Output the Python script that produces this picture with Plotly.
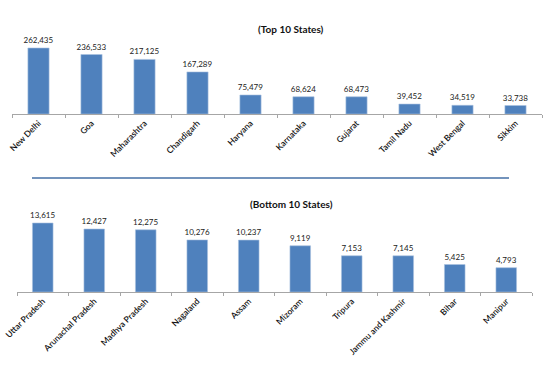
import plotly.graph_objects as go

top_states = ["New Delhi", "Goa", "Maharashtra", "Chandigarh", "Haryana",
              "Karnataka", "Gujarat", "Tamil Nadu", "West Bengal", "Sikkim"]
top_values = [262435, 236533, 217125, 167289, 75479, 68624, 68473, 39452, 34519, 33738]

bottom_states = ["Uttar Pradesh", "Arunachal Pradesh", "Madhya Pradesh", "Nagaland", "Assam",
                 "Mizoram", "Tripura", "Jammu and Kashmir", "Bihar", "Manipur"]
bottom_values = [13615, 12427, 12275, 10276, 10237, 9119, 7153, 7145, 5425, 4793]

top_title = "(Top 10 States)"
bottom_title = "(Bottom 10 States)"

W, H = 550, 366
FONT = "Lato"
BAR = "#4F81BD"

def py(p):
    return 1 - p / H

fig = go.Figure()
for vals, cats, xa, ya in [(top_values, top_states, "x", "y"),
                            (bottom_values, bottom_states, "x2", "y2")]:
    fig.add_trace(go.Bar(
        x=cats, y=vals, xaxis=xa, yaxis=ya,
        marker=dict(color=BAR, line=dict(color="#A9C1DF", width=0.6)),
        text=vals, texttemplate="%{y:,}", textposition="outside",
        textfont=dict(family=FONT, size=8, color="#222"),
        constraintext="none", cliponaxis=False, showlegend=False,
    ))

top_axis_px = 114
top_range = 300000
top_h = top_range * (114 - 48) / 262435
bot_axis_px = 292
bot_range = 16000
bot_h = bot_range * (292 - 223) / 13615

xcommon = dict(type="category", showline=True, linecolor="#A6A6A6", linewidth=1,
               ticks="outside", tickson="boundaries", ticklen=3, tickcolor="#A6A6A6",
               tickangle=-45, tickfont=dict(family=FONT, size=8.5, color="#111", weight=600),
               showgrid=False, zeroline=False, automargin=False)
ycommon = dict(visible=False, showgrid=False, zeroline=False, automargin=False)

fig.update_layout(
    width=W, height=H, margin=dict(l=0, r=0, t=0, b=0),
    paper_bgcolor="white", plot_bgcolor="white",
    bargap=0.6,
    xaxis=dict(**xcommon, domain=[12 / W, 542 / W], anchor="y"),
    yaxis=dict(**ycommon, domain=[py(top_axis_px), py(top_axis_px - top_h)], range=[0, top_range], anchor="x"),
    xaxis2=dict(**xcommon, domain=[17 / W, 532 / W], anchor="y2"),
    yaxis2=dict(**ycommon, domain=[py(bot_axis_px), py(bot_axis_px - bot_h)], range=[0, bot_range], anchor="x2"),
    annotations=[
        dict(text="<b>" + top_title + "</b>", x=291 / W, y=py(29), xref="paper", yref="paper",
             showarrow=False, font=dict(family=FONT, size=10, color="#111"), xanchor="center", yanchor="middle"),
        dict(text="<b>" + bottom_title + "</b>", x=291 / W, y=py(204), xref="paper", yref="paper",
             showarrow=False, font=dict(family=FONT, size=10, color="#111"), xanchor="center", yanchor="middle"),
    ],
    shapes=[dict(type="line", xref="paper", yref="paper", x0=32 / W, x1=509 / W, y0=py(178), y1=py(178),
                 line=dict(color="#7393BC", width=2))],
)

fig.write_html("out.html", config={"displayModeBar": False},
               post_script="document.body.style.margin='0';document.body.style.overflow='hidden';")
